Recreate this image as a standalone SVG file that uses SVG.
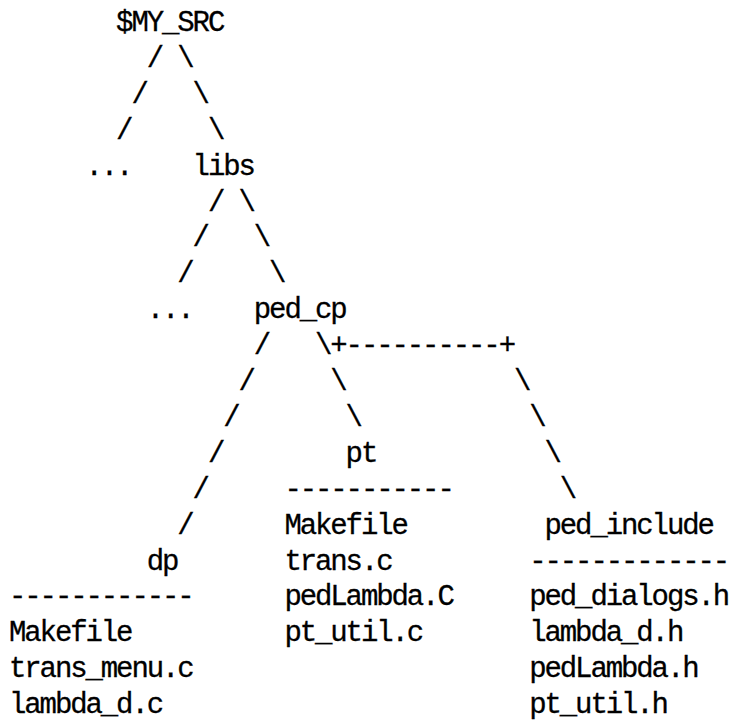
<svg xmlns="http://www.w3.org/2000/svg" width="733" height="726" viewBox="0 0 733 726">
<style>
text{font-family:"Liberation Mono","DejaVu Sans Mono",monospace;font-size:29px;letter-spacing:-2.1px;fill:#000;stroke:#000;stroke-width:0.3px}
</style>
<rect width="733" height="726" fill="#fff"/>
<g id="connectors">
<text x="146.7" y="66.9">/</text><text x="177.3" y="66.9">\</text>
<text x="131.4" y="102.8">/</text><text x="192.6" y="102.8">\</text>
<text x="116.1" y="138.7">/</text><text x="207.9" y="138.7">\</text>
<text x="207.9" y="210.5">/</text><text x="238.5" y="210.5">\</text>
<text x="192.6" y="246.4">/</text><text x="253.8" y="246.4">\</text>
<text x="177.3" y="282.3">/</text><text x="269.1" y="282.3">\</text>
<text x="253.8" y="354.1">/</text><text x="315" y="354.1">\+----------+</text>
<text x="238.5" y="390">/</text><text x="330.3" y="390">\</text><text x="513.9" y="390">\</text>
<text x="223.2" y="425.9">/</text><text x="345.6" y="425.9">\</text><text x="529.2" y="425.9">\</text>
<text x="207.9" y="461.8">/</text><text x="544.5" y="461.8">\</text>
<text x="192.6" y="497.7">/</text><text x="559.8" y="497.7">\</text>
<text x="177.3" y="533.6">/</text>
</g>
<g id="my_src"><text x="116.1" y="31">$MY_SRC</text></g>
<g id="dots1"><text x="85.5" y="174.6">...</text></g>
<g id="libs"><text x="192.6" y="174.6">libs</text></g>
<g id="dots2"><text x="146.7" y="318.2">...</text></g>
<g id="ped_cp"><text x="253.8" y="318.2">ped_cp</text></g>
<g id="pt">
<text x="345.6" y="461.8">pt</text>
<text x="284.4" y="497.7">-----------</text>
<text x="284.4" y="533.6">Makefile</text>
<text x="284.4" y="569.5">trans.c</text>
<text x="284.4" y="605.4">pedLambda.C</text>
<text x="284.4" y="641.3">pt_util.c</text>
</g>
<g id="dp">
<text x="146.7" y="569.5">dp</text>
<text x="9" y="605.4">------------</text>
<text x="9" y="641.3">Makefile</text>
<text x="9" y="677.2">trans_menu.c</text>
<text x="9" y="713.1">lambda_d.c</text>
</g>
<g id="ped_include">
<text x="544.5" y="533.6">ped_include</text>
<text x="529.2" y="569.5">-------------</text>
<text x="529.2" y="605.4">ped_dialogs.h</text>
<text x="529.2" y="641.3">lambda_d.h</text>
<text x="529.2" y="677.2">pedLambda.h</text>
<text x="529.2" y="713.1">pt_util.h</text>
</g>
</svg>
